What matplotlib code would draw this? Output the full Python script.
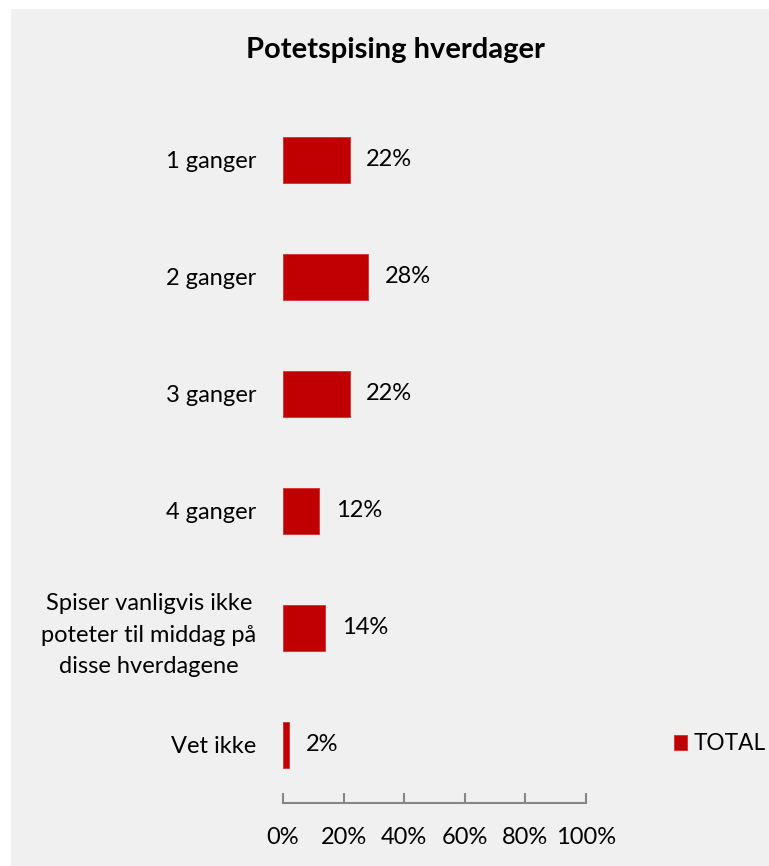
import matplotlib

matplotlib.use("Agg")
import matplotlib.pyplot as plt
from matplotlib.patches import Rectangle

categories = [
    "1 ganger",
    "2 ganger",
    "3 ganger",
    "4 ganger",
    "Spiser vanligvis ikke\npoteter til middag på\ndisse hverdagene",
    "Vet ikke",
]
values = [22, 28, 22, 12, 14, 2]
xticks = [0, 20, 40, 60, 80, 100]
series_name = "TOTAL"
title = "Potetspising hverdager"

RED = "#c00000"
BG = "#f0f0f0"
AXIS = "#868686"
INK = "#000000"
FONT = "Lato"
FS = 17

plt.rcParams["font.family"] = [FONT, "DejaVu Sans"]

W, H = 769, 866
fig = plt.figure(figsize=(W / 100, H / 100), dpi=100, facecolor="white")
# panel background starts a few pixels in from the top/left edges
fig.patches.append(Rectangle((11 / W, 0), 1 - 11 / W, 1 - 9 / H,
                             transform=fig.transFigure, facecolor=BG,
                             edgecolor="none", zorder=-10))

ax = fig.add_axes([283 / W, 1 - 803 / H, 303 / W, (803 - 101.5) / H])
ax.set_facecolor("none")

ypos = list(range(len(categories)))
bars = ax.barh(ypos, values, height=0.40, color=RED, edgecolor="#d43030",
               linewidth=0.6, label=series_name)
for y, v in zip(ypos, values):
    ax.text(v + 5.5, y, f"{v}%", va="center", ha="left", fontsize=FS, color=INK)

ax.set_xlim(0, 100)
ax.set_ylim(len(categories) - 1 + 0.496, -0.5)
ax.set_yticks(ypos)
ax.set_yticklabels(categories, fontsize=FS, color=INK, linespacing=1.6,
                   ha="right", multialignment="center")
ax.tick_params(axis="y", length=0, pad=19)
ax.set_xticks(xticks)
ax.set_xticklabels([f"{t}%" for t in xticks], fontsize=FS, color=INK)
# ticks point up from the axis line in the reference
ax.tick_params(axis="x", direction="in", length=7, width=1.5, color=AXIS,
               pad=17)

for side in ("top", "right", "left"):
    ax.spines[side].set_visible(False)
ax.spines["bottom"].set_color(AXIS)
ax.spines["bottom"].set_linewidth(1.5)

fig.text(395 / W, 1 - 50 / H, title, ha="center", va="center",
         fontsize=21, fontweight="bold", color=INK)

fig.legend(handles=[bars], labels=[series_name], loc="center left",
           bbox_to_anchor=(674 / W, 1 - 744 / H), frameon=False,
           fontsize=16.3, handlelength=0.58, handleheight=0.58,
           handletextpad=0.3, borderpad=0, borderaxespad=0)

fig.savefig("out.png", dpi=100, facecolor=fig.get_facecolor())
